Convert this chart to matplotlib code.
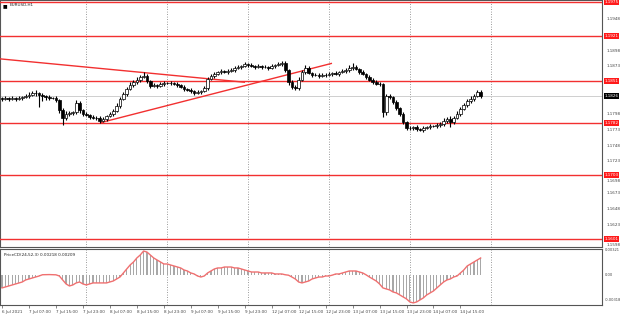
import matplotlib
matplotlib.use('Agg')
import matplotlib.pyplot as plt
from matplotlib.transforms import blended_transform_factory, offset_copy
import numpy as np

symbol_label = "EURUSD,H1"
indicator_label = "PriceCD(24,52,3) 0.00218 0.00209"

first_open = 1.1823
close = [1.1822, 1.1823, 1.1822, 1.1823, 1.1822, 1.1823, 1.1825, 1.1826, 1.1828, 1.1831,
         1.1831, 1.1828, 1.1826, 1.1825, 1.1823, 1.1823, 1.1820, 1.1804, 1.1792, 1.1798,
         1.1799, 1.1801, 1.1815, 1.1804, 1.1798, 1.1796, 1.1793, 1.1792, 1.1792, 1.1787,
         1.1790, 1.1795, 1.1798, 1.1803, 1.1811, 1.1822, 1.1829, 1.1837, 1.1844, 1.1848,
         1.1852, 1.1856, 1.1858, 1.1850, 1.1842, 1.1844, 1.1842, 1.1845, 1.1847, 1.1847,
         1.1847, 1.1845, 1.1844, 1.1841, 1.1837, 1.1836, 1.1834, 1.1831, 1.1833, 1.1834,
         1.1839, 1.1853, 1.1858, 1.1861, 1.1864, 1.1866, 1.1864, 1.1866, 1.1867, 1.1871,
         1.1872, 1.1874, 1.1877, 1.1875, 1.1874, 1.1872, 1.1874, 1.1872, 1.1872, 1.1871,
         1.1874, 1.1875, 1.1877, 1.1878, 1.1867, 1.1848, 1.1841, 1.1839, 1.1852, 1.1864,
         1.1871, 1.1863, 1.1860, 1.1860, 1.1858, 1.1860, 1.1860, 1.1861, 1.1863, 1.1861,
         1.1864, 1.1866, 1.1867, 1.1871, 1.1872, 1.1869, 1.1864, 1.1861, 1.1856, 1.1852,
         1.1848, 1.1845, 1.1845, 1.1801, 1.1826, 1.1825, 1.1817, 1.1807, 1.1798, 1.1785,
         1.1776, 1.1776, 1.1777, 1.1774, 1.1773, 1.1776, 1.1777, 1.1779, 1.1779, 1.1780,
         1.1782, 1.1787, 1.1790, 1.1785, 1.1792, 1.1798, 1.1806, 1.1812, 1.1818, 1.1822,
         1.1826, 1.1833, 1.1826]
wick_up_pips = [2, 3, 2, 3, 2, 3, 2, 3, 4, 3, 5, 2, 3, 2, 3, 2, 3, 2, 3, 4,
                3, 2, 5, 3, 2, 3, 2, 3, 2, 3, 3, 2, 3, 2, 4, 3, 4, 3, 4, 3,
                4, 3, 6, 3, 2, 3, 2, 3, 3, 2, 3, 2, 3, 2, 3, 2, 3, 2, 3, 2,
                3, 4, 3, 3, 2, 3, 2, 3, 3, 2, 3, 2, 3, 2, 3, 2, 3, 2, 3, 2,
                3, 2, 3, 4, 3, 2, 3, 2, 4, 3, 4, 3, 2, 3, 2, 3, 2, 3, 2, 3,
                2, 3, 3, 4, 6, 3, 2, 3, 2, 3, 2, 3, 3, 2, 4, 3, 2, 3, 2, 3,
                2, 3, 2, 3, 2, 3, 2, 3, 2, 3, 3, 4, 3, 5, 3, 4, 3, 4, 3, 4,
                3, 3, 2]
wick_dn_pips = [3, 2, 3, 2, 3, 2, 3, 2, 3, 2, 4, 19, 8, 5, 3, 2, 3, 4, 12, 3,
                3, 2, 3, 4, 3, 2, 3, 2, 3, 3, 2, 3, 2, 3, 2, 3, 2, 3, 2, 3,
                2, 3, 2, 3, 3, 2, 3, 2, 3, 2, 3, 2, 3, 2, 3, 2, 3, 3, 2, 3,
                2, 3, 2, 3, 2, 3, 2, 3, 2, 3, 2, 3, 2, 3, 2, 3, 2, 3, 2, 3,
                2, 3, 2, 3, 3, 4, 3, 4, 3, 2, 3, 2, 3, 2, 3, 2, 3, 2, 3, 2,
                3, 2, 3, 2, 3, 2, 3, 2, 3, 2, 3, 2, 3, 8, 4, 3, 4, 3, 4, 3,
                3, 4, 3, 3, 2, 3, 2, 3, 2, 3, 2, 3, 3, 8, 3, 2, 3, 2, 3, 2,
                3, 2, 3]

macd = [-0.00166, -0.00154, -0.00141, -0.00128, -0.00115, -0.00102, -0.00090, -0.00064, -0.00051, -0.00038,
        -0.00026, -0.00013, 0.00003, 0.00004, 0.00005, 0.00004, 0.00002, -0.00013, -0.00064, -0.00115,
        -0.00141, -0.00128, -0.00102, -0.00090, -0.00115, -0.00128, -0.00115, -0.00102, -0.00102, -0.00102,
        -0.00102, -0.00102, -0.00090, -0.00077, -0.00051, -0.00026, 0.00026, 0.00077, 0.00128, 0.00166,
        0.00218, 0.00256, 0.00307, 0.00294, 0.00256, 0.00218, 0.00192, 0.00166, 0.00141, 0.00141,
        0.00128, 0.00115, 0.00102, 0.00090, 0.00064, 0.00051, 0.00026, 0.00013, -0.00013, -0.00026,
        -0.00013, 0.00026, 0.00051, 0.00077, 0.00090, 0.00090, 0.00102, 0.00102, 0.00102, 0.00090,
        0.00090, 0.00077, 0.00064, 0.00051, 0.00038, 0.00038, 0.00038, 0.00026, 0.00026, 0.00026,
        0.00026, 0.00013, 0.00013, 0.00013, 0.00003, -0.00003, -0.00026, -0.00051, -0.00090, -0.00102,
        -0.00090, -0.00077, -0.00051, -0.00038, -0.00026, -0.00026, -0.00013, -0.00013, -0.00002, 0.00013,
        0.00013, 0.00026, 0.00038, 0.00051, 0.00051, 0.00051, 0.00038, 0.00026, 0.00002, -0.00026,
        -0.00051, -0.00077, -0.00115, -0.00166, -0.00179, -0.00192, -0.00218, -0.00230, -0.00256, -0.00282,
        -0.00307, -0.00346, -0.00358, -0.00346, -0.00320, -0.00294, -0.00256, -0.00230, -0.00205, -0.00166,
        -0.00128, -0.00090, -0.00064, -0.00051, -0.00026, -0.00013, 0.00026, 0.00064, 0.00115, 0.00141,
        0.00166, 0.00192, 0.00218]

levels = [1.1975, 1.1921, 1.1850, 1.1784, 1.1701, 1.1600]
level_labels = ["1.1975", "1.1921", "1.1851", "1.1782", "1.1703", "1.1601"]
trend_bars = [[-0.6, 72.1], [29.1, 97.9]]
trend_prices = [[1.1885, 1.1848], [1.1784, 1.1878]]
bid_price = 1.1826
bid_label = "1.1826"

price_ticks = [1.1948, 1.1898, 1.1873, 1.1798, 1.1773,
               1.1748, 1.1723, 1.1698, 1.1673, 1.1648, 1.1623, 1.1598]
macd_ticks = [0.00321, 0.0, -0.00318]
macd_tick_labels = ["0.00321", "0.00", "-0.00318"]
time_labels = ["6 Jul 2021", "7 Jul 07:00", "7 Jul 15:00", "7 Jul 23:00", "8 Jul 07:00",
               "8 Jul 15:00", "8 Jul 23:00", "9 Jul 07:00", "9 Jul 15:00", "9 Jul 23:00",
               "12 Jul 07:00", "12 Jul 15:00", "12 Jul 23:00", "13 Jul 07:00", "13 Jul 15:00",
               "13 Jul 23:00", "14 Jul 07:00", "14 Jul 15:00"]
time_label_bars = [0, 8, 16, 24, 32, 40, 48, 56, 64, 72, 80, 88, 96, 104, 112, 120, 128, 136]
day_separator_bars = [25, 49, 73, 97, 121, 145]

W, H = 620, 316
fig = plt.figure(figsize=(W / 100, H / 100), dpi=100)
fig.patch.set_facecolor('white')

right = 602 / W
ax = fig.add_axes([0, 1 - 247 / H, right, 247 / H])
axi = fig.add_axes([0, 1 - 305 / H, right, (305 - 249) / H])

n = len(close)
idx = np.arange(n)
c = np.array(close)
o = np.concatenate([[first_open], c[:-1]])
hi = np.maximum(o, c) + np.array(wick_up_pips) * 0.0001
lo = np.minimum(o, c) - np.array(wick_dn_pips) * 0.0001

xmin, xmax = -0.6, 178.0
for a in (ax, axi):
    a.set_xlim(xmin, xmax)
    a.set_facecolor('white')
    for b in day_separator_bars:
        a.axvline(b, color='#7a7a7a', lw=0.6, ls=(0, (1, 2)), zorder=1)
    for s in a.spines.values():
        s.set_color('#555555')
        s.set_linewidth(0.8)
    a.tick_params(axis='y', left=False, right=False, labelleft=False, labelright=False)

ax.set_ylim(1.15877, 1.1978)
axi.set_ylim(-0.00385, 0.00333)

for lv in levels:
    ax.axhline(lv, color='#f23030', lw=1.0, zorder=3)
ax.axhline(bid_price, color='#c8c8c8', lw=0.6, zorder=1)
for bx, py in zip(trend_bars, trend_prices):
    ax.plot(bx, py, color='#f23030', lw=1.0, zorder=4, solid_capstyle='butt')

ax.vlines(idx, lo, hi, color='black', lw=0.8, zorder=5)
bull = c >= o
ax.bar(idx[bull], (c - o)[bull], bottom=o[bull], width=0.8, color='white',
       edgecolor='black', linewidth=0.5, zorder=6)
ax.bar(idx[~bull], (o - c)[~bull], bottom=c[~bull], width=0.8, color='black',
       edgecolor='black', linewidth=0.5, zorder=6)

ax.set_xticks([])
tr = blended_transform_factory(ax.transAxes, ax.transData)
tr_down = offset_copy(tr, fig=fig, x=0, y=-3.0, units='points')
for p in price_ticks:
    near = any(0 < lv - p < 0.0006 for lv in levels)
    ax.text(1.008, p, f"{p:.4f}", transform=tr_down if near else tr, fontsize=3.0,
            color='#444444', va='center', ha='left', clip_on=False)
for lv, lab in zip(levels, level_labels):
    ax.text(1.004, lv, lab, transform=tr, fontsize=3.0, color='white', va='center', ha='left',
            clip_on=False, zorder=10,
            bbox=dict(boxstyle='square,pad=0.2', fc='#ff1a1a', ec='none'))
ax.text(1.004, bid_price, bid_label, transform=tr, fontsize=3.0, color='white', va='center',
        ha='left', clip_on=False, zorder=10,
        bbox=dict(boxstyle='square,pad=0.2', fc='black', ec='none'))

ax.text(0.004, 0.987, "\u25A0", transform=ax.transAxes, fontsize=3.5, color='black',
        va='top', ha='left')
ax.text(0.016, 0.987, symbol_label, transform=ax.transAxes, fontsize=3.0, color='#222222',
        va='top', ha='left')

m = np.array(macd)
axi.bar(idx, m, width=0.35, color='#a8a8a8', zorder=2)
axi.plot(idx, m, color='#f07070', lw=1.0, zorder=3)
axi.text(0.006, 0.93, indicator_label, transform=axi.transAxes, fontsize=3.0,
         color='#222222', va='top', ha='left')
tri = blended_transform_factory(axi.transAxes, axi.transData)
for v, lab in zip(macd_ticks, macd_tick_labels):
    axi.text(1.004, v, lab, transform=tri, fontsize=2.6, color='#444444',
             va='center', ha='left', clip_on=False)

axi.set_xticks(time_label_bars)
axi.set_xticklabels(time_labels, fontsize=3.0, color='#444444', ha='left')
axi.tick_params(axis='x', length=2, width=0.5, pad=1.5, color='#555555')

fig.savefig('out.png', dpi=100, facecolor='white')
